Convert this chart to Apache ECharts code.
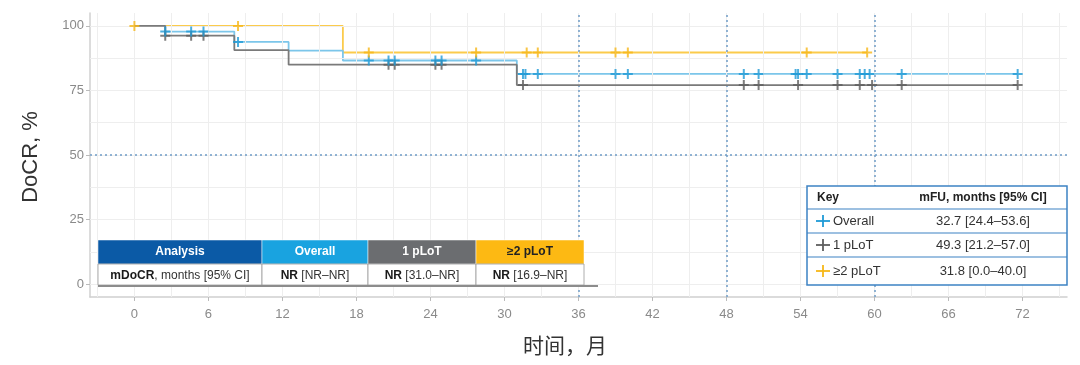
<!DOCTYPE html>
<html>
<head>
<meta charset="utf-8">
<script src="https://cdn.jsdelivr.net/npm/echarts@6/dist/echarts.min.js"></script>
<style>html,body{margin:0;padding:0;background:#fff}#c{width:1080px;height:365px}</style>
</head>
<body>
<div id="c"></div>
<script>
// ---- data ----
const xTicks = [0, 6, 12, 18, 24, 30, 36, 42, 48, 54, 60, 66, 72];
const yTicks = [0, 25, 50, 75, 100];
const xGrid = [-3, 0, 3, 6, 9, 12, 15, 18, 21, 24, 27, 30, 33, 36, 39, 42, 45, 48, 51, 54, 57, 60, 63, 66, 69, 72, 75];
const yGrid = [0, 12.5, 25, 37.5, 50, 62.5, 75, 87.5, 100];
const refX = [36, 48, 60];
const refY = [50];

const overallSteps = [[0, 100], [2.5, 97.8], [8.1, 93.8], [12.5, 90.4], [16.9, 86.6], [31.0, 81.4], [71.6, 81.4]];
const onePlotSteps = [[0, 100], [2.5, 96.2], [8.1, 90.6], [12.5, 85.0], [31.0, 77.1], [71.6, 77.1]];
const twoPlotSteps = [[0, 100], [16.9, 89.7], [59.4, 89.7]];

const overallCensor = [2.5, 4.6, 5.6, 8.4, 19.0, 20.6, 21.1, 24.4, 24.9, 27.7, 31.5, 31.7, 32.7, 39.0, 40.0, 49.4, 50.6, 53.6, 53.8, 54.5, 57.0, 58.8, 59.2, 59.6, 62.2, 71.6];
const onePlotCensor = [2.5, 4.6, 5.6, 20.6, 21.1, 24.4, 24.9, 31.5, 49.4, 50.6, 53.8, 57.0, 58.8, 59.8, 62.2, 71.6];
const twoPlotCensor = [0, 8.4, 19.0, 27.7, 31.8, 32.7, 39.0, 40.0, 54.5, 59.4];

const xTitle = '时间，月';
const yTitle = 'DoCR, %';
const tableHeader = ['Analysis', 'Overall', '1 pLoT', '≥2 pLoT'];
const tableRow = [['mDoCR', ', months [95% CI]'], ['NR', ' [NR–NR]'], ['NR', ' [31.0–NR]'], ['NR', ' [16.9–NR]']];
const keyHeader = ['Key', 'mFU, months [95% CI]'];
const keyNames = ['Overall', '1 pLoT', '≥2 pLoT'];
const keyValues = ['32.7 [24.4–53.6]', '49.3 [21.2–57.0]', '31.8 [0.0–40.0]'];

// ---- styles ----
const C_BLUE_LINE = '#7cc6ea', C_BLUE = '#1f9ad6';
const C_GRAY_LINE = '#7a7a7a', C_GRAY = '#5e5e5e';
const C_YEL_LINE = '#fbcb4c', C_YEL = '#f6b718';
const PLUS = 'path://M4,0H6V4H10V6H6V10H4V6H0V4H4Z';

function levelAt(steps, t) {
  let v = steps[0][1];
  for (const s of steps) { if (s[0] <= t) v = s[1]; }
  return v;
}
function censorPts(steps, times) { return times.map(t => [t, levelAt(steps, t)]); }

const chart = echarts.init(document.getElementById('c'), null, { renderer: 'canvas' });

const gridLines = xGrid.map(v => ({ xAxis: v })).concat(yGrid.map(v => ({ yAxis: v })));
const refLines = refX.map(v => ({ xAxis: v })).concat(refY.map(v => ({ yAxis: v })));

function stepSeries(steps, color, z) {
  return { type: 'line', step: 'end', data: steps, showSymbol: false, symbol: 'none', z: z,
    lineStyle: { color: color, width: 1.8 }, silent: true, animation: false };
}
function censorSeries(steps, times, color, z) {
  return { type: 'scatter', data: censorPts(steps, times), symbol: PLUS, symbolSize: 10, z: z,
    itemStyle: { color: color }, silent: true, animation: false };
}

// table graphics
const colX = [98, 262, 368, 476, 584];
const headColors = ['#0b5aa6', '#19a3e0', '#6b6d70', '#fdb913'];
const headText = ['#fff', '#fff', '#fff', '#222'];
const g = [];
const hy = 240, hh = 24, ry = 264, rh = 21;
for (let i = 0; i < 4; i++) {
  const x0 = colX[i], w = colX[i + 1] - colX[i];
  g.push({ type: 'rect', shape: { x: x0, y: hy, width: w, height: hh }, style: { fill: headColors[i], stroke: '#ffffff', lineWidth: 0.5 }, z: 10 });
  g.push({ type: 'text', x: x0 + w / 2, y: hy + hh / 2, style: { text: tableHeader[i], fill: headText[i], font: 'bold 12px "Liberation Sans", Arial, sans-serif', align: 'center', verticalAlign: 'middle' }, z: 11 });
  g.push({ type: 'rect', shape: { x: x0, y: ry, width: w, height: rh }, style: { fill: '#fff', stroke: '#9a9a9a', lineWidth: 0.8 }, z: 10 });
  g.push({ type: 'text', x: x0 + w / 2, y: ry + rh / 2 + 1, style: {
    text: '{b|' + tableRow[i][0] + '}{n|' + tableRow[i][1] + '}', align: 'center', verticalAlign: 'middle',
    rich: { b: { font: 'bold 12px "Liberation Sans", Arial, sans-serif', fill: '#1a1a1a' }, n: { font: '12px "Liberation Sans", Arial, sans-serif', fill: '#333' } } }, z: 11 });
}
g.push({ type: 'line', shape: { x1: colX[0], y1: ry + rh + 1, x2: colX[4] + 14, y2: ry + rh + 1 }, style: { stroke: '#8c8c8c', lineWidth: 2 }, z: 11 });

// key box
const kx = 807, kw = 260, ky = 186;
const krows = [186, 209, 233, 257, 285];
g.push({ type: 'rect', shape: { x: kx, y: ky, width: kw, height: krows[4] - ky }, style: { fill: '#fff', stroke: '#3d82c4', lineWidth: 1.5 }, z: 10 });
for (let i = 1; i < 4; i++) {
  g.push({ type: 'line', shape: { x1: kx, y1: krows[i], x2: kx + kw, y2: krows[i] }, style: { stroke: '#3d82c4', lineWidth: 1.2 }, z: 11 });
}
g.push({ type: 'text', x: kx + 10, y: (krows[0] + krows[1]) / 2, style: { text: keyHeader[0], font: 'bold 12px "Liberation Sans", Arial, sans-serif', fill: '#222', verticalAlign: 'middle' }, z: 12 });
g.push({ type: 'text', x: kx + 176, y: (krows[0] + krows[1]) / 2, style: { text: keyHeader[1], font: 'bold 12px "Liberation Sans", Arial, sans-serif', fill: '#222', align: 'center', verticalAlign: 'middle' }, z: 12 });
const keyColors = [C_BLUE, C_GRAY, C_YEL];
for (let i = 0; i < 3; i++) {
  const cy = (krows[i + 1] + krows[i + 2]) / 2;
  g.push({ type: 'line', shape: { x1: kx + 9, y1: cy, x2: kx + 23, y2: cy }, style: { stroke: keyColors[i], lineWidth: 1.8 }, z: 12 });
  g.push({ type: 'line', shape: { x1: kx + 16, y1: cy - 6, x2: kx + 16, y2: cy + 6 }, style: { stroke: keyColors[i], lineWidth: 1.8 }, z: 12 });
  g.push({ type: 'text', x: kx + 26, y: cy, style: { text: keyNames[i], font: '13px "Liberation Sans", Arial, sans-serif', fill: '#333', verticalAlign: 'middle' }, z: 12 });
  g.push({ type: 'text', x: kx + 176, y: cy, style: { text: keyValues[i], font: '13px "Liberation Sans", Arial, sans-serif', fill: '#333', align: 'center', verticalAlign: 'middle' }, z: 12 });
}
// axis titles
g.push({ type: 'text', x: 565, y: 345, style: { text: xTitle, font: '21px "Noto Sans CJK SC", sans-serif', fill: '#333', align: 'center', verticalAlign: 'middle' }, z: 12 });
g.push({ type: 'text', x: 31, y: 157, rotation: Math.PI / 2, style: { text: yTitle, font: '22px "Liberation Sans", Arial, sans-serif', fill: '#333', align: 'center', verticalAlign: 'middle' }, z: 12 });

const option = {
  animation: false,
  backgroundColor: '#ffffff',
  grid: { left: 90, right: 13, top: 13, bottom: 68, containLabel: false },
  xAxis: {
    type: 'value', min: -3.6, max: 75.6,
    axisLine: { show: true, onZero: false, lineStyle: { color: '#d0d0d0', width: 1.5 } },
    axisTick: { show: true, customValues: xTicks, length: 4, lineStyle: { color: '#bbbbbb' } },
    axisLabel: { customValues: xTicks, color: '#8a8a8a', fontSize: 13, margin: 11, fontFamily: '"Liberation Sans", Arial, sans-serif' },
    splitLine: { show: false }
  },
  yAxis: {
    type: 'value', min: -5, max: 105,
    axisLine: { show: true, onZero: false, lineStyle: { color: '#d0d0d0', width: 1.5 } },
    axisTick: { show: true, customValues: yTicks, length: 4, lineStyle: { color: '#bbbbbb' } },
    axisLabel: { customValues: yTicks, color: '#8a8a8a', fontSize: 13, margin: 6, fontFamily: '"Liberation Sans", Arial, sans-serif' },
    splitLine: { show: false }
  },
  series: [
    { type: 'line', data: [[-10, -10]], showSymbol: false, silent: true, z: 1,
      markLine: { silent: true, symbol: 'none', label: { show: false }, animation: false,
        lineStyle: { color: '#eeeeee', width: 1, type: 'solid' }, data: gridLines } },
    { type: 'line', data: [[-10, -10]], showSymbol: false, silent: true, z: 2,
      markLine: { silent: true, symbol: 'none', label: { show: false }, animation: false,
        lineStyle: { color: '#6f9cc6', width: 1.5, type: [2, 3] }, data: refLines } },
    stepSeries(twoPlotSteps, C_YEL_LINE, 3),
    stepSeries(overallSteps, C_BLUE_LINE, 4),
    stepSeries(onePlotSteps, C_GRAY_LINE, 5),
    censorSeries(onePlotSteps, onePlotCensor, C_GRAY, 6),
    censorSeries(overallSteps, overallCensor, C_BLUE, 7),
    censorSeries(twoPlotSteps, twoPlotCensor, C_YEL, 8)
  ],
  graphic: g
};
chart.setOption(option);
</script>
</body>
</html>
